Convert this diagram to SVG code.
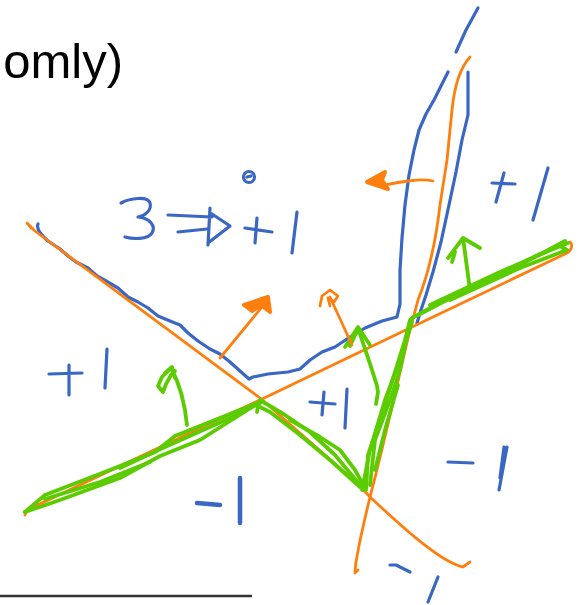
<svg xmlns="http://www.w3.org/2000/svg" width="585" height="605" viewBox="0 0 585 605">
<style>
.b{fill:none;stroke:#3a66c4;stroke-width:3.2;stroke-linecap:round;stroke-linejoin:round}
.bt{fill:none;stroke:#3a66c4;stroke-width:4.5;stroke-linecap:round;stroke-linejoin:round}
.o{fill:none;stroke:#ff7f0e;stroke-width:2.8;stroke-linecap:round;stroke-linejoin:round}
.ot{fill:#ff7f0e;stroke:#ff7f0e;stroke-width:4;stroke-linecap:round;stroke-linejoin:round}
.g{fill:none;stroke:#5acc00;stroke-width:3.8;stroke-linecap:round;stroke-linejoin:round}
.t{font-family:"Liberation Sans",Arial,sans-serif;font-size:49px;fill:#000}
</style>
<rect width="585" height="605" fill="#fff"/>
<text class="t" x="123" y="78" text-anchor="end">omly)</text>
<line x1="0" y1="596" x2="252" y2="596" stroke="#333" stroke-width="2.5"/>

<g id="blue-curves">
<path class="b" d="M38,224 C36,229 41,235 48,241 L60,249 L68,256 L76,262 L88,268 L97,276 L106,281 L118,288 L128,297 L138,302 L148,308 L158,316 L170,321 L180,325 L188,333 L198,341 L210,349 L220,354 L230,362 L240,371 L249,379 L253,377 L268,374 L288,372 L300,369 L310,360 L322,352 L335,347 L350,337 L365,328 L382,321 L397,317 L400,304 L400,270 L402,238 L405,205 L409,175 L414,150 L419,130 L426,114 L434,100 L441,86 L448,72"/>
<path class="b" d="M468,72 L468,115 L462,140 L456,172 L449,205 L441,242 L433,272 L426,295 L421,310 L417,323"/>
<path class="b" d="M478,8 L466,30 L456,52"/>
</g>

<g id="orange-lines">
<path class="o" d="M31,228 L27,223 L35,231 L260,398 L357,483 L370,497 C400,525 440,562 463,567 L470,562"/>
<path class="o" d="M25,515 L27,510 L260,400 L412,327 L567,253 C572,250 573,244 570,242"/>
<path class="o" d="M470,57 C458,70 454,90 452,110 L447,160 L440,205 C436,240 428,275 418,300 L410,330 C398,380 385,440 370,497 C362,530 355,560 355,573 L358,570"/>
</g>

<g id="green-lines">
<path class="g" d="M25,512 L45,495 L110,470 L155,452 L175,436 L260,402"/>
<path class="g" d="M25,512 L60,500 L120,478 L160,456 L200,440 L260,402"/>
<path class="g" d="M120,468 L165,447 L230,418 L262,402"/>
<path class="g" d="M45,499 L100,482 L150,462"/>
<path class="g" d="M260,400 L285,415 L310,432 L335,455 L360,485"/>
<path class="g" d="M257,412 L258,406 L270,412 L300,435 L330,460 L360,487"/>
<path class="g" d="M290,420 L320,437 L340,450 L355,470 L365,488"/>
<path class="g" d="M362,490 L370,450 L385,400 L400,360 L412,322"/>
<path class="g" d="M366,490 L368,455 L380,420 L395,372 L405,340 L410,320"/>
<path class="g" d="M370,485 L375,440 L390,400 L400,370 L408,330"/>
<path class="g" d="M375,470 L385,430 L398,385"/>
<path class="g" d="M412,318 L460,292 L520,265 L565,241"/>
<path class="g" d="M418,315 L470,288 L540,254 L568,243"/>
<path class="g" d="M430,305 L500,272 L560,246 L567,250 L520,268 L450,300"/>
</g>

<g id="green-arrows">
<path class="g" d="M187,425 C185,405 180,385 172,370"/>
<path class="g" d="M170,369 L162,377 L158,386 L163,392 L166,384 L171,375 L175,371 M165,373 L172,367 L175,378"/>
<path class="g" d="M376,404 L378,392 L377,386 C373,372 366,352 358,328"/>
<path class="g" d="M345,347 L358,327 L370,345 M350,346 L357,331"/>
<path class="g" d="M470,290 L463,238 M448,258 L463,238 L480,248 M452,262 L455,252"/>
</g>

<g id="orange-arrows">
<path class="o" d="M220,358 L266,302"/>
<path class="ot" d="M244,305 L268,297 L270,312 L261,305 L252,311 Z"/>
<path class="o" d="M352,345 L330,297"/>
<path class="o" d="M320,306 L322,296 L330,290 L338,296 L334,302 L328,298 L330,306" stroke-width="3.8"/>
<path class="o" d="M433,181 C420,178 400,182 385,185 L370,182" stroke-width="3.2"/>
<path class="ot" d="M367,182 L385,172 L382,180 L388,189 Z"/>
</g>

<g id="labels">
<path class="b" d="M121,203 C130,198 148,196 150,203 C152,210 145,216 138,217 C150,218 156,226 152,233 C148,240 132,239 125,237"/>
<path class="b" d="M168,215 L212,217 M178,232 L207,229 M210,208 L208,245 M212,214 L230,226 L208,243"/>
<path class="b" d="M245,228 L272,232 M257,218 L255,243 M297,212 L292,253"/>
<circle class="b" cx="249" cy="177" r="5.5" stroke-width="3.8"/>
<path class="b" d="M247,177 L251,176" stroke-width="2"/>
<path class="b" d="M49,374 L82,373 M69,365 L69,395 M107,349 L105,388"/>
<path class="b" d="M492,183 L515,184 M504,173 L496,202 M548,168 L533,220"/>
<path class="b" d="M310,402 L335,404 M324,392 L322,415 M347,389 L345,428"/>
<path class="bt" d="M197,503 L220,505 M240,478 L240,523"/>
<path class="b" d="M448,462 L473,463 M507,447 L499,490 M504,447 L500,478"/>
<path class="b" d="M390,565 L396,565 L410,572 M438,577 L428,602"/>
</g>
</svg>
